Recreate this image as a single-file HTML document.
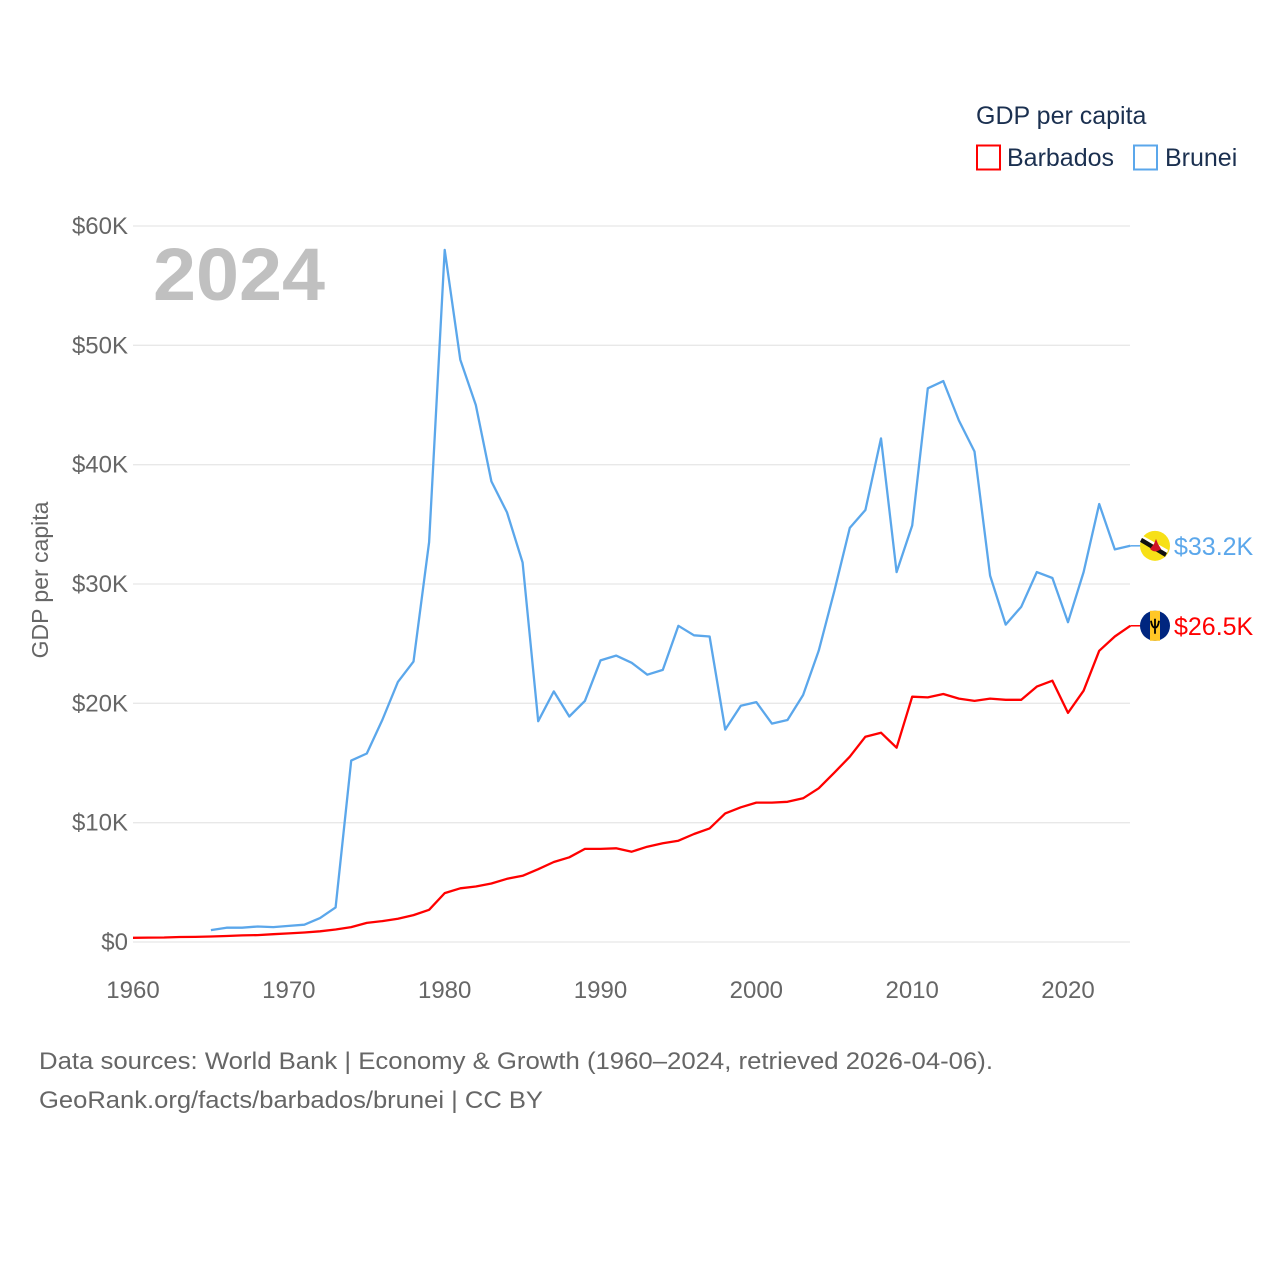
<!DOCTYPE html>
<html><head><meta charset="utf-8">
<style>
html,body{margin:0;padding:0;background:#fff;}
svg{display:block;font-family:"Liberation Sans",sans-serif;}
</style></head>
<body>
<svg id="chart" width="1280" height="1280" viewBox="0 0 1280 1280">
  <g id="grid"></g>
  <g id="yticks"></g>
  <g id="xticks"></g>
  <text x="48" y="580" transform="rotate(-90 48 580)" text-anchor="middle" font-size="23" fill="#666">GDP per capita</text>
  <text x="153" y="300" font-size="74" font-weight="bold" fill="#c0c0c0" textLength="172" lengthAdjust="spacingAndGlyphs">2024</text>
  <g id="series"></g>
  <g>
    <text x="976" y="124" font-size="25" fill="#1b3050">GDP per capita</text>
    <g>
      <rect x="977" y="145.5" width="23" height="24" fill="none" stroke="#ff0000" stroke-width="2"/>
      <text x="1007" y="166" font-size="25" fill="#1b3050">Barbados</text>
    </g>
    <g>
      <rect x="1134" y="145.5" width="23" height="24" fill="none" stroke="#5ba7eb" stroke-width="2"/>
      <text x="1165" y="166" font-size="25" fill="#1b3050">Brunei</text>
    </g>
  </g>
  <g>
    <text x="39" y="1069" font-size="24" fill="#666" textLength="954" lengthAdjust="spacingAndGlyphs">Data sources: World Bank | Economy &amp; Growth (1960–2024, retrieved 2026-04-06).</text>
    <text x="39" y="1108" font-size="24" fill="#666" textLength="504" lengthAdjust="spacingAndGlyphs">GeoRank.org/facts/barbados/brunei | CC BY</text>
  </g>
</svg>
<script>
const yTicks = [0, 10, 20, 30, 40, 50, 60];
const yTickLabels = ["$0", "$10K", "$20K", "$30K", "$40K", "$50K", "$60K"];
const xTicks = [1960, 1970, 1980, 1990, 2000, 2010, 2020];
const barbadosStart = 1960;
const barbados = [0.35,0.37,0.38,0.42,0.43,0.46,0.5,0.55,0.58,0.65,0.72,0.8,0.9,1.05,1.25,1.6,1.75,1.95,2.25,2.7,
4.1,4.5,4.65,4.9,5.3,5.55,6.1,6.7,7.1,7.8,7.8,7.85,7.57,7.99,8.27,8.49,9.05,9.52,10.78,11.29,
11.68,11.68,11.75,12.04,12.88,14.19,15.53,17.2,17.54,16.28,20.56,20.5,20.78,20.4,20.2,20.4,20.3,20.3,21.4,21.9,
19.2,21.06,24.4,25.6,26.5];
const bruneiStart = 1965;
const brunei = [1.0,1.2,1.2,1.3,1.25,1.35,1.45,2.0,2.9,15.2,15.8,18.6,21.8,23.5,33.5,
58.0,48.8,45.0,38.6,36.0,31.8,18.5,21.0,18.9,20.2,23.6,24.0,23.4,22.4,22.8,26.5,25.7,25.6,17.8,19.8,
20.1,18.3,18.6,20.7,24.4,29.4,34.7,36.2,42.2,31.0,34.9,46.4,47.0,43.7,41.1,30.7,26.6,28.1,31.0,30.5,
26.8,31.0,36.7,32.9,33.2];
const endLabels = ["$26.5K", "$33.2K"];

const NS = "http://www.w3.org/2000/svg";
const X = yr => 133 + (yr - 1960) * (1068 - 133) / 60;
const Y = v => 942 - v * (942 - 226) / 60;
function mk(tag, attrs, parent){const e=document.createElementNS(NS,tag);for(const k in attrs)e.setAttribute(k,attrs[k]);parent.appendChild(e);return e;}

const grid=document.getElementById('grid'), yt=document.getElementById('yticks'), xt=document.getElementById('xticks'), ser=document.getElementById('series');
yTicks.forEach((v,i)=>{
  const l=mk('line',{x1:133,x2:1130,y1:Y(v),y2:Y(v),stroke:'#e8e8e8','stroke-width':1.3},grid);
  
  
  const t=mk('text',{x:128,y:Y(v)+8,'text-anchor':'end','font-size':24,fill:'#666'},yt);
  t.textContent=yTickLabels[i];
  
  
});
xTicks.forEach(yr=>{
  const t=mk('text',{x:X(yr),y:998,'text-anchor':'middle','font-size':24,fill:'#666'},xt);
  t.textContent=String(yr);
  
  
});
function line(data,start,color,name){
  const pts=data.map((v,i)=>X(start+i).toFixed(1)+','+Y(v).toFixed(1)).join(' ');
  const p=mk('polyline',{points:pts,fill:'none',stroke:color,'stroke-width':2.3,'stroke-linejoin':'round'},ser);
  
  
  const lastY=Y(data[data.length-1]);
  mk('line',{x1:X(2024),x2:1142,y1:lastY,y2:lastY,stroke:color,'stroke-width':1.5},ser);
  return lastY;
}
const yB=line(brunei,bruneiStart,'#5ba7eb','line-brunei');
const yBa=line(barbados,barbadosStart,'#ff0000','line-barbados');

const fb=mk('g',{},ser);


mk('circle',{cx:1155,cy:yB,r:15,fill:'#f7e017'},fb);
mk('path',{d:`M1142 ${yB-8} L1167 ${yB+7} L1165 ${yB+11} L1140 ${yB-4} Z`,fill:'#111'},fb);
mk('path',{d:`M1141 ${yB-11} L1168 ${yB+4} L1167 ${yB+7} L1142 ${yB-8} Z`,fill:'#fff'},fb);
mk('path',{d:`M1150 ${yB+3} Q1155 ${yB+8} 1161 ${yB+3} L1158 ${yB-2} L1156 ${yB-7} L1154 ${yB-2} Z`,fill:'#cf1126'},fb);
const fba=mk('g',{},ser);


mk('circle',{cx:1155,cy:yBa,r:15,fill:'#00267f'},fba);
mk('rect',{x:1150,y:yBa-15,width:10,height:30,fill:'#ffc726'},fba);
mk('path',{d:`M1151 ${yBa-5} Q1152 ${yBa+2} 1155 ${yBa+2} Q1158 ${yBa+2} 1159 ${yBa-5} M1155 ${yBa-7} L1155 ${yBa+8}`,fill:'none',stroke:'#000','stroke-width':1.8},fba);

const t1=mk('text',{x:1174,y:yB+9,'font-size':25,fill:'#5ba7eb'},ser);
t1.textContent=endLabels[1];


const t2=mk('text',{x:1174,y:yBa+9,'font-size':25,fill:'#ff0000'},ser);
t2.textContent=endLabels[0];


</script>
</body></html>
